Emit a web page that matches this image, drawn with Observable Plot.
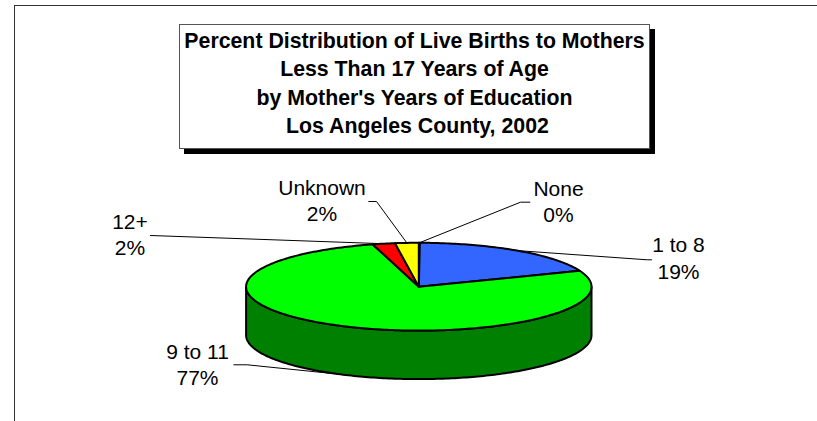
<!DOCTYPE html>
<html>
<head>
<meta charset="utf-8">
<script src="https://cdn.jsdelivr.net/npm/d3@7"></script>
<script src="https://cdn.jsdelivr.net/npm/@observablehq/plot@0.6"></script>
<style>
html, body { margin: 0; padding: 0; background: #fff; }
#wrap { position: relative; width: 817px; height: 421px; overflow: hidden; font-family: "Liberation Sans", Arial, sans-serif; }
#frame { position: absolute; left: 14px; top: 5px; width: 900px; height: 500px; border-left: 1px solid #333; border-top: 1px solid #333; }
#chart { position: absolute; left: 0; top: 0; }
#title { position: absolute; left: 179px; top: 24px; width: 471px; height: 125px; box-sizing: border-box;
  border: 1px solid #555; background: #fff; box-shadow: 5px 5px 0 #000; text-align: center;
  font-weight: bold; font-size: 21.3px; line-height: 28.4px; padding-top: 1.8px; color: #000; }
#title div { white-space: pre; }
</style>
</head>
<body>
<div id="wrap">
  <div id="frame"></div>
  <div id="chart"></div>
  <div id="title"></div>
</div>
<script>
// ---- data ----
const titleLines = [
  "Percent Distribution of Live Births to Mothers",
  "Less Than 17 Years of Age",
  "by Mother's Years of Education",
  " Los Angeles County, 2002"
];
const categories = ["None", "1 to 8", "9 to 11", "12+", "Unknown"];
const values = [0.1, 19.0, 76.6, 2.1, 2.2];
const topColors = ["#9999FF", "#3366FF", "#00FF00", "#FF0000", "#FFFF00"];
const sideColors = ["#4D4D80", "#1A3380", "#008000", "#800000", "#808000"];

// ---- layout (pixels) ----
const CX = 418.3, CY = 286.2, RX = 172.7, RY = 43.9, DEPTH = 48.5;
const labelPx = [[558, 195], [678, 251.7], [197, 358.3], [129.5, 228.3], [321.5, 194.3]];
const leaderPx = [
  [[529.3, 201.7], [520, 201.7]],
  [[651, 259.3], [646.7, 259.3]],
  [[233.3, 364.3], [246.7, 364.3]],
  [[150, 235]],
  [[368.3, 201], [376, 201]]
];
const lineGap = 26.6;

// title
const titleEl = document.getElementById("title");
titleLines.forEach(t => { const d = document.createElement("div"); d.textContent = t; titleEl.appendChild(d); });

// ---- geometry from data ----
const nx = px => (px - CX) / RX;
const ny = py => (CY - py) / RY;
const D = DEPTH / RY;
const total = d3.sum(values);
let acc = 0;
const slices = values.map((v, i) => {
  const a0 = acc / total * 2 * Math.PI; acc += v;
  const a1 = acc / total * 2 * Math.PI;
  return {i, a0, a1, mid: (a0 + a1) / 2};
});
function arcPts(a0, a1, dy = 0) {
  const n = Math.max(2, Math.ceil((a1 - a0) / (Math.PI / 180)) + 1);
  return d3.range(n).map(k => {
    const a = a0 + (a1 - a0) * k / (n - 1);
    return {x: Math.sin(a), y: Math.cos(a) + dy};
  });
}

const marks = [];

// leader lines (drawn first, pie covers their inner ends)
const leaderData = [];
slices.forEach(s => {
  const front = s.mid > Math.PI / 2 && s.mid < 3 * Math.PI / 2;
  const anchor = {x: Math.sin(s.mid), y: Math.cos(s.mid) - (front ? D : 0)};
  leaderPx[s.i].forEach(([px, py]) => leaderData.push({z: s.i, x: nx(px), y: ny(py)}));
  leaderData.push({z: s.i, ...anchor});
});
marks.push(Plot.line(leaderData, {x: "x", y: "y", z: "z", stroke: "#000", strokeWidth: 1}));

// side walls (front half only)
slices.forEach(s => {
  const lo = Math.max(s.a0, Math.PI / 2), hi = Math.min(s.a1, 3 * Math.PI / 2);
  if (hi > lo) {
    const pts = [...arcPts(lo, hi), ...arcPts(lo, hi, -D).reverse()];
    marks.push(Plot.line(pts, {x: "x", y: "y", fill: sideColors[s.i], stroke: "#000", strokeWidth: 2,
      strokeLinejoin: "round", curve: "linear-closed"}));
  }
});

// top faces
slices.forEach(s => {
  const pts = [{x: 0, y: 0}, ...arcPts(s.a0, s.a1)];
  marks.push(Plot.line(pts, {x: "x", y: "y", fill: topColors[s.i], stroke: "#000", strokeWidth: 2,
    strokeLinejoin: "round", curve: "linear-closed"}));
});

// labels
const labels = slices.map(s => ({
  x: nx(labelPx[s.i][0]), y: ny(labelPx[s.i][1]),
  name: categories[s.i], pct: Math.round(values[s.i]) + "%"
}));
const font = "Liberation Sans, Arial, sans-serif";
marks.push(Plot.text(labels, {x: "x", y: "y", text: "name", fontSize: 21, fontFamily: font, fill: "#000", lineAnchor: "bottom"}));
marks.push(Plot.text(labels, {x: "x", y: "y", text: "pct", dy: lineGap, fontSize: 21, fontFamily: font, fill: "#000", lineAnchor: "bottom"}));

const chart = Plot.plot({
  width: 817, height: 421, margin: 0,
  x: {domain: [-1, 1], range: [CX - RX, CX + RX], axis: null},
  y: {domain: [-1, 1], range: [CY + RY, CY - RY], axis: null},
  style: {background: "transparent", overflow: "visible", fontFamily: font},
  marks
});
document.getElementById("chart").appendChild(chart);
</script>
</body>
</html>
